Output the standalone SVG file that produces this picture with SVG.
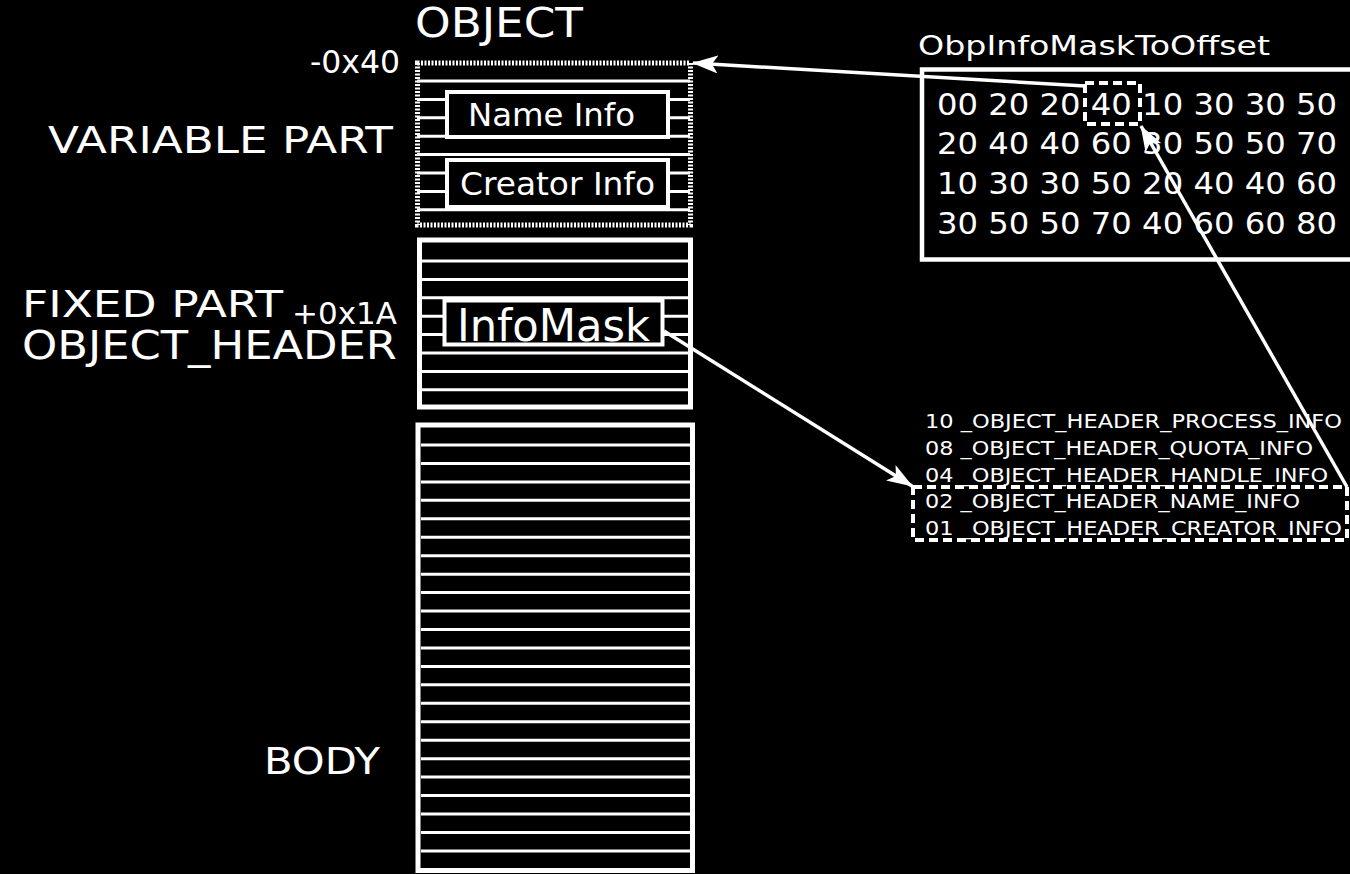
<svg xmlns="http://www.w3.org/2000/svg" width="1350" height="874" viewBox="0 0 1350 874">
<defs>
<style>
text{font-family:"DejaVu Sans","Verdana",sans-serif;fill:#fff;}
.box{fill:#000;stroke:#fff;stroke-width:4;}
.row{stroke:#fff;stroke-width:3;}
.dash{fill:none;stroke:#fff;stroke-width:4;stroke-dasharray:9 5;}
.conn{stroke:#fff;stroke-width:3.5;fill:none;marker-end:url(#ah);}
</style>
<marker id="ah" viewBox="0 0 26 18" refX="25" refY="9" markerWidth="26" markerHeight="18" markerUnits="userSpaceOnUse" orient="auto">
<path d="M0,0 L26,9 L0,18 L6,9 z" fill="#fff"/>
</marker>
</defs>
<rect width="1350" height="874" fill="#000"/>

<g id="labels">
<text x="415" y="37" font-size="40" textLength="168" lengthAdjust="spacingAndGlyphs">OBJECT</text>
<text x="310" y="73" font-size="32" textLength="90" lengthAdjust="spacingAndGlyphs">-0x40</text>
<text x="48" y="153" font-size="37" textLength="345" lengthAdjust="spacingAndGlyphs">VARIABLE PART</text>
<text x="22" y="317" font-size="38" textLength="261" lengthAdjust="spacingAndGlyphs">FIXED PART</text>
<text x="292" y="324" font-size="30" textLength="105" lengthAdjust="spacingAndGlyphs">+0x1A</text>
<text x="22" y="359" font-size="39" textLength="375" lengthAdjust="spacingAndGlyphs">OBJECT_HEADER</text>
<text x="264" y="774" font-size="37" textLength="116" lengthAdjust="spacingAndGlyphs">BODY</text>
</g>

<g id="variable-part">
<g class="row">
<line x1="417" y1="81" x2="690" y2="81"/>
<line x1="417" y1="99.4" x2="690" y2="99.4"/>
<line x1="417" y1="117.8" x2="690" y2="117.8"/>
<line x1="417" y1="136.2" x2="690" y2="136.2"/>
<line x1="417" y1="154.6" x2="690" y2="154.6"/>
<line x1="417" y1="173" x2="690" y2="173"/>
<line x1="417" y1="191.4" x2="690" y2="191.4"/>
<line x1="417" y1="209.8" x2="690" y2="209.8"/>
</g>
<rect x="417.5" y="63" width="273" height="162" fill="none" stroke="#fff" stroke-width="5" stroke-dasharray="2 1.5"/>
</g>

<g id="name-info">
<rect class="box" x="447" y="92" width="221" height="45" stroke-width="3.5"/>
<text x="468" y="126" font-size="32" textLength="167" lengthAdjust="spacingAndGlyphs">Name Info</text>
</g>

<g id="creator-info">
<rect class="box" x="447" y="160" width="221" height="47" stroke-width="3.5"/>
<text x="460" y="195" font-size="32" textLength="195" lengthAdjust="spacingAndGlyphs">Creator Info</text>
</g>

<g id="fixed-part">
<rect x="419.5" y="240" width="271" height="167" fill="#000" stroke="#fff" stroke-width="5"/>
<g class="row">
<line x1="422" y1="261" x2="688" y2="261"/>
<line x1="422" y1="279.4" x2="688" y2="279.4"/>
<line x1="422" y1="297.8" x2="688" y2="297.8"/>
<line x1="422" y1="316.2" x2="688" y2="316.2"/>
<line x1="422" y1="334.6" x2="688" y2="334.6"/>
<line x1="422" y1="353" x2="688" y2="353"/>
<line x1="422" y1="371.4" x2="688" y2="371.4"/>
<line x1="422" y1="389.8" x2="688" y2="389.8"/>
</g>
</g>

<g id="infomask">
<rect class="box" x="444.5" y="300.5" width="218" height="44"/>
<text x="457" y="341" font-size="45" textLength="193" lengthAdjust="spacingAndGlyphs">InfoMask</text>
</g>

<g id="body">
<rect x="418" y="425" width="274.5" height="445.5" fill="#000" stroke="#fff" stroke-width="5"/>
<g class="row">
<line x1="421" y1="445" x2="690" y2="445"/>
<line x1="421" y1="463.45" x2="690" y2="463.45"/>
<line x1="421" y1="481.9" x2="690" y2="481.9"/>
<line x1="421" y1="500.35" x2="690" y2="500.35"/>
<line x1="421" y1="518.8" x2="690" y2="518.8"/>
<line x1="421" y1="537.25" x2="690" y2="537.25"/>
<line x1="421" y1="555.7" x2="690" y2="555.7"/>
<line x1="421" y1="574.15" x2="690" y2="574.15"/>
<line x1="421" y1="592.6" x2="690" y2="592.6"/>
<line x1="421" y1="611.05" x2="690" y2="611.05"/>
<line x1="421" y1="629.5" x2="690" y2="629.5"/>
<line x1="421" y1="647.95" x2="690" y2="647.95"/>
<line x1="421" y1="666.4" x2="690" y2="666.4"/>
<line x1="421" y1="684.85" x2="690" y2="684.85"/>
<line x1="421" y1="703.3" x2="690" y2="703.3"/>
<line x1="421" y1="721.75" x2="690" y2="721.75"/>
<line x1="421" y1="740.2" x2="690" y2="740.2"/>
<line x1="421" y1="758.65" x2="690" y2="758.65"/>
<line x1="421" y1="777.1" x2="690" y2="777.1"/>
<line x1="421" y1="795.55" x2="690" y2="795.55"/>
<line x1="421" y1="814" x2="690" y2="814"/>
<line x1="421" y1="832.45" x2="690" y2="832.45"/>
<line x1="421" y1="850.9" x2="690" y2="850.9"/>
</g>
</g>

<g id="offset-table">
<text x="918" y="55" font-size="26" textLength="352" lengthAdjust="spacingAndGlyphs">ObpInfoMaskToOffset</text>
<rect x="922" y="69.5" width="440" height="190" fill="none" stroke="#fff" stroke-width="4.5"/>
<text x="937" y="115" font-size="31" textLength="400" lengthAdjust="spacingAndGlyphs">00 20 20 40 10 30 30 50</text>
<text x="937" y="154" font-size="31" textLength="400" lengthAdjust="spacingAndGlyphs">20 40 40 60 30 50 50 70</text>
<text x="937" y="194" font-size="31" textLength="400" lengthAdjust="spacingAndGlyphs">10 30 30 50 20 40 40 60</text>
<text x="937" y="234" font-size="31" textLength="400" lengthAdjust="spacingAndGlyphs">30 50 50 70 40 60 60 80</text>
<rect class="dash" x="1085" y="83" width="55" height="41"/>
</g>

<g id="info-flags">
<text x="925" y="428" font-size="19" textLength="417" lengthAdjust="spacingAndGlyphs">10 _OBJECT_HEADER_PROCESS_INFO</text>
<text x="925" y="455" font-size="19" textLength="388" lengthAdjust="spacingAndGlyphs">08 _OBJECT_HEADER_QUOTA_INFO</text>
<text x="925" y="482" font-size="19" textLength="403" lengthAdjust="spacingAndGlyphs">04 _OBJECT_HEADER_HANDLE_INFO</text>
<text x="925" y="508" font-size="19" textLength="375" lengthAdjust="spacingAndGlyphs">02 _OBJECT_HEADER_NAME_INFO</text>
<text x="925" y="535" font-size="19" textLength="417" lengthAdjust="spacingAndGlyphs">01 _OBJECT_HEADER_CREATOR_INFO</text>
<rect class="dash" x="913" y="487" width="434" height="53"/>
</g>

<g id="connectors">
<line class="conn" x1="1085" y1="86" x2="693" y2="63"/>
<line class="conn" x1="1347" y1="487" x2="1141" y2="126"/>
<line class="conn" x1="664" y1="331" x2="912" y2="486"/>
</g>
</svg>
